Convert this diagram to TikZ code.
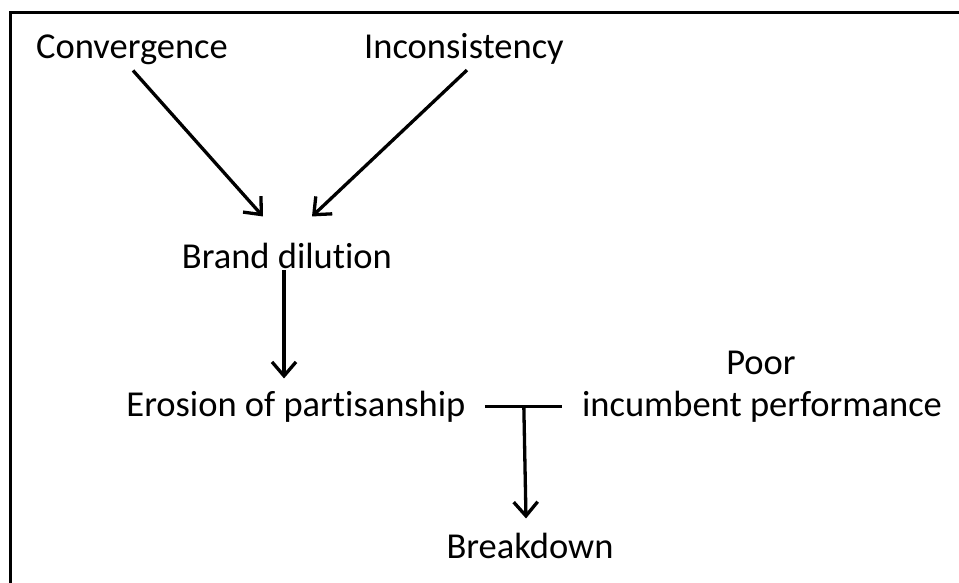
\documentclass[tikz,border=0pt]{standalone}
\usepackage{fontspec}
\setmainfont{Carlito}[Ligatures=NoCommon]
\usetikzlibrary{arrows.meta,calc}
\begin{document}
\begin{tikzpicture}[x=1pt,y=-1pt,
  lbl/.style={font=\fontsize{36.5}{43}\selectfont, inner sep=4pt, anchor=base},
  conn/.style={line width=3.3pt},
  arr/.style={conn, -{Straight Barb[length=14pt,width=24pt,line width=3.3pt]}}]
\useasboundingbox (0,0) rectangle (959,583);
\fill[white] (0,0) rectangle (959,583);
% frame (top and left only)
\draw[line width=3pt] (10,583) -- (10,13) -- (959,13);
% labels
\node[lbl] (conv) at (132,59) {Convergence};
\node[lbl] (inc) at (464,59) {Inconsistency};
\node[lbl] (bd) at (287,268) {Brand dilution};
\node[lbl] (ero) at (296,416) {Erosion of partisanship};
\node[lbl] (poor) at (761,374) {Poor};
\node[lbl] (perf) at (762,416) {incumbent performance};
\node[lbl] (bk) at (530,558) {Breakdown};
% arrows
\draw[arr] ($(conv.south)+(1,1)$) -- ($(bd.north)+(-24,-22)$);
\draw[arr] ($(inc.south)+(3,1)$) -- ($(bd.north)+(25,-22)$);
\draw[arr] ($(bd.south)+(-3,-2)$) -- ($(ero.north)+(-12,-8)$);
\coordinate (tj) at ($(ero.east)!0.5!(perf.west)$);
\draw[conn] ($(ero.east)+(15,0)$) -- ($(perf.west)+(-16,0)$);
\draw[arr] (tj) -- ($(bk.north)+(-4,-10)$);
\end{tikzpicture}
\end{document}
